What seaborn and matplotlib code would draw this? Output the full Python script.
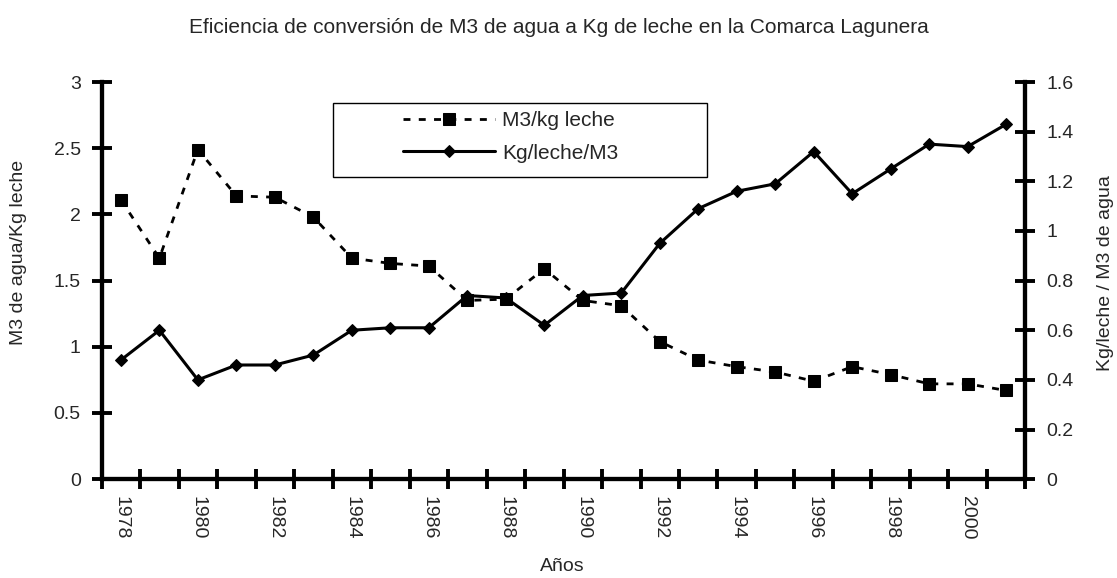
import matplotlib
matplotlib.use("Agg")
import matplotlib.pyplot as plt
import seaborn as sns
import pandas as pd
from matplotlib.patches import Rectangle
from matplotlib.ticker import FixedLocator, NullFormatter, FixedFormatter

years = list(range(1978, 2002))
m3_per_kg = [2.11, 1.67, 2.49, 2.14, 2.13, 1.98, 1.67, 1.63, 1.61, 1.35, 1.36, 1.59,
             1.35, 1.31, 1.04, 0.90, 0.85, 0.81, 0.74, 0.85, 0.79, 0.72, 0.72, 0.67]
kg_per_m3 = [0.48, 0.60, 0.40, 0.46, 0.46, 0.50, 0.60, 0.61, 0.61, 0.74, 0.73, 0.62,
             0.74, 0.75, 0.95, 1.09, 1.16, 1.19, 1.32, 1.15, 1.25, 1.35, 1.34, 1.43]
label_years = list(range(1978, 2001, 2))
left_ticks = [0, 0.5, 1, 1.5, 2, 2.5, 3]
left_labels = ["0", "0.5", "1", "1.5", "2", "2.5", "3"]
right_ticks = [0, 0.2, 0.4, 0.6, 0.8, 1, 1.2, 1.4, 1.6]
right_labels = ["0", "0.2", "0.4", "0.6", "0.8", "1", "1.2", "1.4", "1.6"]

sns.set_theme(style="white")
plt.rcParams['font.family'] = ['Liberation Sans', 'DejaVu Sans']

df = pd.DataFrame({"year": years, "m3": m3_per_kg, "kg": kg_per_m3})

fig = plt.figure(figsize=(11.17, 5.78), dpi=100)
ax = fig.add_axes([0.091, 0.171, 0.827, 0.687])
ax2 = ax.twinx()

sns.lineplot(data=df, x="year", y="m3", ax=ax, color="black", marker="s",
             markersize=9, mec="black", mfc="black", lw=2,
             linestyle=(0, (2.5, 3)), legend=False)
sns.lineplot(data=df, x="year", y="kg", ax=ax2, color="black", marker="D",
             markersize=6.5, mec="black", mfc="black", lw=2.2, legend=False)

ax.set_xlim(1977.5, 2001.5)
ax.set_ylim(0, 3)
ax2.set_ylim(0, 1.6)

# x ticks at category boundaries, labels at every other category
ax.xaxis.set_major_locator(FixedLocator([1977.5 + k for k in range(25)]))
ax.xaxis.set_major_formatter(NullFormatter())
ax.xaxis.set_minor_locator(FixedLocator(label_years))
ax.xaxis.set_minor_formatter(FixedFormatter([str(y) for y in label_years]))
ax.tick_params(axis="x", which="major", direction="inout", length=14, width=2.8,
               color="black", bottom=True)
ax.tick_params(axis="x", which="minor", length=0, pad=12, labelsize=14,
               labelrotation=-90, bottom=True)

ax.set_yticks(left_ticks)
ax.set_yticklabels(left_labels)
ax.tick_params(axis="y", direction="inout", length=14, width=2.8, color="black",
               labelsize=14, pad=8, left=True)
ax2.set_yticks(right_ticks)
ax2.set_yticklabels(right_labels)
ax2.tick_params(axis="y", direction="inout", length=14, width=2.8, color="black",
                labelsize=14, pad=8, right=True)

for a in (ax, ax2):
    a.spines["top"].set_visible(False)
    for s in ("left", "bottom", "right"):
        a.spines[s].set_linewidth(3)
        a.spines[s].set_color("black")
    a.grid(False)

ax.set_xlabel("Años", fontsize=14)
ax.xaxis.set_label_coords(0.4987, -0.198)
ax.set_ylabel("M3 de agua/Kg leche", fontsize=14)
ax.yaxis.set_label_coords(-0.081, 0.57)
ax2.set_ylabel("Kg/leche / M3 de agua", fontsize=14)
ax2.yaxis.set_label_coords(1.077, 0.52)

fig.text(0.5005, 0.9516,
         "Eficiencia de conversión de M3 de agua a Kg de leche en la Comarca Lagunera",
         fontsize=15, ha="center", va="center")

# legend box
ax2.add_patch(Rectangle((0.2506, 0.761), 0.4052, 0.186, transform=ax2.transAxes,
                        facecolor="white", edgecolor="black", lw=1, zorder=5))
h1 = ax.get_lines()[0]
h2 = ax2.get_lines()[0]
leg = ax2.legend([h1, h2], ["M3/kg leche", "Kg/leche/M3"], loc="upper left",
                 bbox_to_anchor=(0.3264, 0.927), frameon=False, fontsize=15,
                 handlelength=4.4, borderpad=0, labelspacing=0.65,
                 handletextpad=0.35, borderaxespad=0)
leg.set_zorder(6)

fig.savefig("out.png", dpi=100)
